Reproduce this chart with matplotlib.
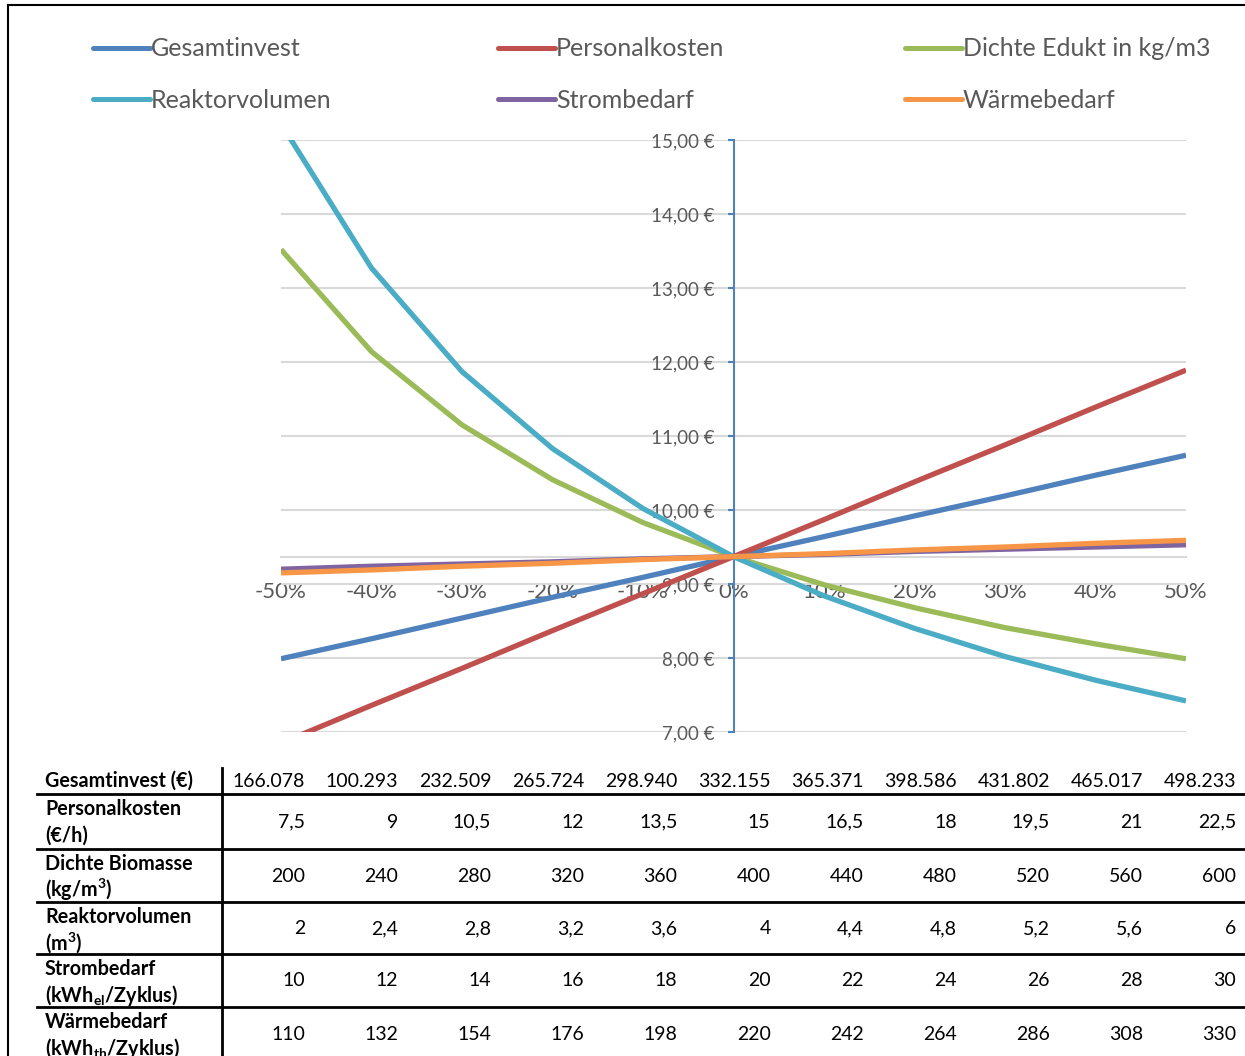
import matplotlib.pyplot as plt
from matplotlib.lines import Line2D
from matplotlib.ticker import FuncFormatter

plt.rcParams['font.family'] = ['Lato', 'DejaVu Sans']
plt.rcParams['mathtext.fontset'] = 'custom'
plt.rcParams['mathtext.rm'] = 'Lato'
plt.rcParams['mathtext.bf'] = 'Lato:bold'

# change of each input parameter in percent
changes = [-50, -40, -30, -20, -10, 0, 10, 20, 30, 40, 50]

# resulting cost (€) for each varied parameter
gesamtinvest = [7.99, 8.26, 8.54, 8.82, 9.09, 9.37, 9.64, 9.92, 10.19, 10.47, 10.74]
personalkosten = [6.85, 7.36, 7.86, 8.37, 8.87, 9.37, 9.87, 10.38, 10.88, 11.39, 11.89]
dichte = [13.52, 12.14, 11.15, 10.41, 9.83, 9.37, 8.99, 8.68, 8.41, 8.19, 7.99]
reaktorvolumen = [15.22, 13.27, 11.87, 10.83, 10.02, 9.37, 8.84, 8.40, 8.02, 7.70, 7.42]
strombedarf = [9.20, 9.24, 9.27, 9.30, 9.34, 9.37, 9.40, 9.44, 9.47, 9.50, 9.53]
waermebedarf = [9.15, 9.19, 9.24, 9.28, 9.33, 9.37, 9.41, 9.46, 9.50, 9.55, 9.59]

series_names = ["Gesamtinvest", "Personalkosten", "Dichte Edukt in kg/m3",
                "Reaktorvolumen", "Strombedarf", "Wärmebedarf"]
series_data = [gesamtinvest, personalkosten, dichte,
               reaktorvolumen, strombedarf, waermebedarf]
colors = ["#4F81BD", "#C0504D", "#9BBB59", "#4BACC6", "#8064A2", "#F79646"]

# parameter table underneath the chart
row_labels = ["Gesamtinvest (€)",
              "Personalkosten\n(€/h)",
              "Dichte Biomasse\n(kg/m$^{\\mathbf{3}}$)",
              "Reaktorvolumen\n(m$^{\\mathbf{3}}$)",
              "Strombedarf\n(kWh$_{\\mathbf{el}}$/Zyklus)",
              "Wärmebedarf\n(kWh$_{\\mathbf{th}}$/Zyklus)"]
invest_values = ["166.078", "100.293", "232.509", "265.724", "298.940", "332.155",
                 "365.371", "398.586", "431.802", "465.017", "498.233"]
lohn_values = ["7,5", "9", "10,5", "12", "13,5", "15", "16,5", "18", "19,5", "21", "22,5"]
dichte_values = ["200", "240", "280", "320", "360", "400", "440", "480", "520", "560", "600"]
volumen_values = ["2", "2,4", "2,8", "3,2", "3,6", "4", "4,4", "4,8", "5,2", "5,6", "6"]
strom_values = ["10", "12", "14", "16", "18", "20", "22", "24", "26", "28", "30"]
waerme_values = ["110", "132", "154", "176", "198", "220", "242", "264", "286", "308", "330"]
table_values = [invest_values, lohn_values, dichte_values,
                volumen_values, strom_values, waerme_values]

W, H = 1245, 1056
fig = plt.figure(figsize=(W / 100, H / 100), dpi=100)


def fx(x):
    return x / W


def fy(y):
    return 1 - y / H


ax = fig.add_axes([fx(281), fy(732), fx(905), 592 / H])

for name, vals, c in zip(series_names, series_data, colors):
    ax.plot(changes, vals, color=c, lw=3.8, label=name, zorder=3,
            solid_capstyle='butt')

base = gesamtinvest[changes.index(0)]

ax.set_xlim(-50, 50)
ax.set_ylim(7, 15)
ax.set_xticks(changes)
ax.set_yticks(range(7, 16))
ax.xaxis.set_major_formatter(FuncFormatter(lambda v, p: f"{v:.0f}%"))
ax.yaxis.set_major_formatter(FuncFormatter(lambda v, p: f"{v:.2f} €".replace(".", ",")))

for s in ["top", "right"]:
    ax.spines[s].set_visible(False)
ax.spines["left"].set_position(("data", 0))
ax.spines["left"].set_color("#4F81BD")
ax.spines["left"].set_linewidth(1.5)
ax.spines["bottom"].set_position(("data", base))
ax.spines["bottom"].set_color("#D9D9D9")
ax.spines["bottom"].set_linewidth(1.5)

ax.tick_params(axis="x", length=0, pad=18, labelsize=16, labelcolor="#595959")
ax.tick_params(axis="y", direction="out", length=4.5, width=1.5, color="#4F81BD",
               pad=9, labelsize=13.5, labelcolor="#595959")
ax.yaxis.grid(True, color="#D9D9D9", lw=1.5)
ax.set_axisbelow(True)

# legend, three columns in two rows
for i, (name, c) in enumerate(zip(series_names, colors)):
    x0 = [93, 498, 905][i % 3]
    y0 = [48, 99][i // 3]
    fig.add_artist(Line2D([fx(x0), fx(x0 + 57)], [fy(y0), fy(y0)], color=c,
                          lw=3.6, solid_capstyle="round"))
    fig.text(fx(x0 + 58), fy(y0 + 1), name, fontsize=18, color="#595959",
             va="center", ha="left")

# table grid
row_edges = [768, 794, 849, 902, 954, 1007, 1060]
for y in row_edges[1:-1]:
    fig.add_artist(Line2D([fx(37), fx(W)], [fy(y), fy(y)], color="black", lw=2))
fig.add_artist(Line2D([fx(222), fx(222)], [fy(768), fy(H)], color="black", lw=2))

col_w = (W - 221) / 11
for r, (label, vals) in enumerate(zip(row_labels, table_values)):
    top, bottom = row_edges[r], row_edges[r + 1]
    mid = (top + bottom) / 2
    lines = label.split("\n")
    if len(lines) == 1:
        fig.text(fx(45), fy(mid + 6), lines[0], fontsize=14.2, fontweight="bold",
                 va="baseline", ha="left")
    else:
        for j, part in enumerate(lines):
            fig.text(fx(45), fy(top + 21 + 27 * j), part, fontsize=14.2,
                     fontweight="bold", va="baseline", ha="left")
    for k, v in enumerate(vals):
        fig.text(fx(221 + col_w * (k + 1) - 9), fy(mid + 6), v, fontsize=14,
                 va="baseline", ha="right")

# outer frame
fig.add_artist(Line2D([fx(8), fx(8)], [fy(5), fy(H)], color="black", lw=1.5))
fig.add_artist(Line2D([fx(8), fx(W)], [fy(5), fy(5)], color="black", lw=1.5))

fig.savefig("out.png", dpi=100)
